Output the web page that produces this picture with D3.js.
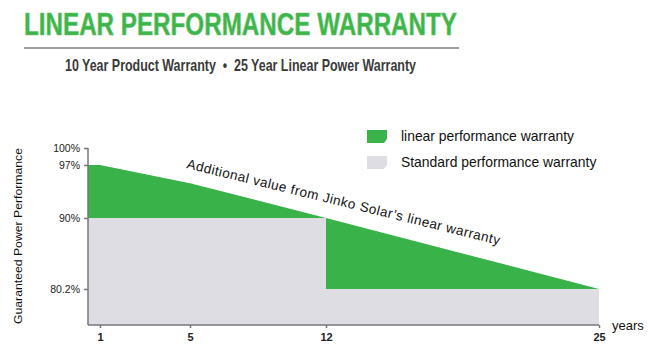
<!DOCTYPE html>
<html>
<head>
<meta charset="utf-8">
<script src="https://cdn.jsdelivr.net/npm/d3@7"></script>
<style>
html,body{margin:0;padding:0;background:#fff;}
svg{display:block;font-family:"Liberation Sans",Arial,sans-serif;}
</style>
</head>
<body>
<svg id="chart" width="654" height="355"></svg>
<script>
// ---- data ----
const years = [1, 5, 12, 25];
const linearWarranty = [97, 94.6, 90, 80.2];
const standardYears = [12, 25];
const standardWarranty = [90, 80.2];
const yTickValues = [100, 97, 90, 80.2];
const yTickLabels = ["100%", "97%", "90%", "80.2%"];
const xTickValues = [1, 5, 12, 25];
const legendLabels = ["linear performance warranty", "Standard performance warranty"];

const green = "#39b24a", gray = "#dedde4", axisCol = "#777";
const svg = d3.select("#chart");

// piecewise scales (the original chart's axes are not uniform)
const x = d3.scaleLinear().domain([0.47, 1, 5, 12, 25]).range([88, 100, 190, 326, 599]);
const y = d3.scaleLinear().domain([75, 80.2, 90, 97, 100]).range([325, 289, 218, 165, 148]);
const x0 = x.domain()[0], yBase = y.domain()[0];

// title
svg.append("text").attr("x", 24).attr("y", 35)
  .attr("font-size", 30.5).attr("font-weight", "bold").attr("fill", "#3db54a")
  .attr("stroke", "#6cc56f").attr("stroke-width", 0.6)
  .attr("textLength", 433).attr("lengthAdjust", "spacingAndGlyphs")
  .text("LINEAR PERFORMANCE WARRANTY");
svg.append("rect").attr("x", 24).attr("y", 47).attr("width", 435).attr("height", 2).attr("fill", "#a0a0a0");
svg.append("text").attr("x", 65).attr("y", 71)
  .attr("font-size", 16.5).attr("font-weight", "bold").attr("fill", "#3a3a3a")
  .attr("textLength", 351).attr("lengthAdjust", "spacingAndGlyphs")
  .text("10 Year Product Warranty\u00a0\u00a0\u2022\u00a0\u00a025 Year Linear Power Warranty");

// linear warranty area (green)
const linPts = [[x0, linearWarranty[0]]].concat(years.map((yr, i) => [yr, linearWarranty[i]]));
const area = d3.area().x(d => x(d[0])).y0(y(yBase)).y1(d => y(d[1])).curve(d3.curveLinear);
svg.append("path").datum(linPts).attr("d", area).attr("fill", green);

// standard warranty area (gray, step)
const stdPts = [[x0, standardWarranty[0]]];
standardYears.forEach((yr, i) => {
  stdPts.push([yr, standardWarranty[i]]);
  if (i < standardYears.length - 1) stdPts.push([yr, standardWarranty[i + 1]]);
});
svg.append("path").datum(stdPts).attr("d", area).attr("fill", gray);

// axes
const yAxis = d3.axisLeft(y).tickValues(yTickValues).tickFormat((d, i) => yTickLabels[i]).tickSize(4).tickSizeOuter(0);
const gy = svg.append("g").attr("transform", `translate(${x(x0)},0)`).call(yAxis);
gy.select(".domain").attr("d", `M0,${y(100)}V${y(yBase)}`).attr("stroke", axisCol).attr("stroke-width", 1.5);
gy.selectAll(".tick line").attr("stroke", axisCol).attr("stroke-width", 1.5);
gy.selectAll(".tick text").attr("font-size", 10.5).attr("fill", "#222").attr("font-family", "Liberation Sans, Arial, sans-serif").attr("dx", -1);

const xAxis = d3.axisBottom(x).tickValues(xTickValues).tickFormat(d3.format("d")).tickSize(3).tickSizeOuter(0);
const gx = svg.append("g").attr("transform", `translate(0,${y(yBase)})`).call(xAxis);
gx.select(".domain").attr("d", `M${x(x0)},0H${x(25)}`).attr("stroke", axisCol).attr("stroke-width", 1.5);
gx.selectAll(".tick line").attr("stroke", axisCol).attr("stroke-width", 1.5);
gx.selectAll(".tick text").attr("font-size", 11).attr("font-weight", "bold").attr("fill", "#222").attr("font-family", "Liberation Sans, Arial, sans-serif").attr("dy", "0.95em");

svg.append("text").attr("x", 612).attr("y", 330).attr("font-size", 13).attr("fill", "#111").text("years");

// y label
svg.append("text").attr("transform", "translate(22,236) rotate(-90)")
  .attr("text-anchor", "middle").attr("font-size", 11.5).attr("fill", "#111")
  .attr("textLength", 176).attr("lengthAdjust", "spacingAndGlyphs")
  .text("Guaranteed Power Performance");

// annotation
svg.append("text").attr("transform", "translate(186,168) rotate(13.8)")
  .attr("font-size", 13.5).attr("fill", "#111")
  .attr("textLength", 322).attr("lengthAdjust", "spacing")
  .text("Additional value from Jinko Solar\u2019s linear warranty");

// legend
const lg = svg.append("g");
[green, gray].forEach((c, i) => {
  const ty = 130 + i * 26;
  lg.append("path").attr("d", `M367,${ty}H387V${ty + 9}L384,${ty + 13}H367Z`).attr("fill", c);
  lg.append("text").attr("x", 401).attr("y", ty + 11).attr("font-size", 13.9).attr("fill", "#111").text(legendLabels[i]);
});
</script>
</body>
</html>
